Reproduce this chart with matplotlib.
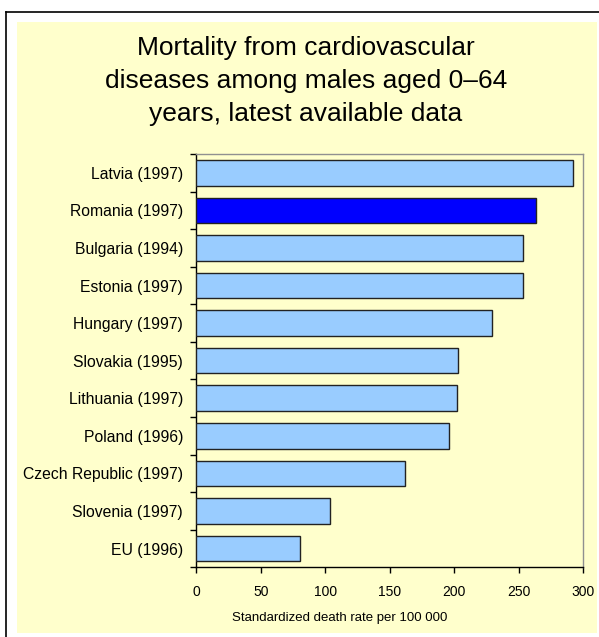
import matplotlib
matplotlib.use("Agg")
import matplotlib.pyplot as plt
from matplotlib.patches import Rectangle
from matplotlib.lines import Line2D

plt.rcParams['font.family'] = ['Liberation Sans', 'DejaVu Sans']

categories = ["Latvia (1997)", "Romania (1997)", "Bulgaria (1994)", "Estonia (1997)",
              "Hungary (1997)", "Slovakia (1995)", "Lithuania (1997)", "Poland (1996)",
              "Czech Republic (1997)", "Slovenia (1997)", "EU (1996)"]
values = [292, 263, 253.5, 253, 229, 202.5, 202, 196, 162, 103.5, 80]
highlight = "Romania (1997)"
xticks = [0, 50, 100, 150, 200, 250, 300]

W, H = 599, 637
fig = plt.figure(figsize=(W / 100, H / 100), dpi=100)
fig.patch.set_facecolor('white')

# yellow panel
fig.patches.append(Rectangle((17 / W, 1 - 633 / H), (597 - 17) / W, (633 - 22) / H,
                             transform=fig.transFigure, facecolor='#FFFFCC',
                             edgecolor='none', zorder=-10))
# black frame lines (left and top)
fig.lines.append(Line2D([6 / W, 6 / W], [0, 1 - 11.5 / H], transform=fig.transFigure,
                        color='black', lw=1.2, zorder=-5))
fig.lines.append(Line2D([6 / W, 1], [1 - 11.5 / H, 1 - 11.5 / H], transform=fig.transFigure,
                        color='black', lw=1.2, zorder=-5))

ax = fig.add_axes([196.3 / W, 1 - 567.3 / H, 387 / W, 413.3 / H])
ax.set_facecolor('#FFFFCC')

colors = ['#0000FF' if c == highlight else '#99CCFF' for c in categories]
ypos = list(range(len(categories)))
ax.barh(ypos, values, height=0.68, color=colors, edgecolor='#222222', linewidth=1.0, zorder=3)

ax.set_ylim(len(categories) - 0.5, -0.5)
ax.set_xlim(0, 300)
ax.set_yticks(ypos)
ax.set_yticklabels(categories, fontsize=11.3)
ax.set_yticks([i - 0.5 for i in range(len(categories) + 1)], minor=True)
ax.tick_params(axis='y', which='major', length=0, pad=9.6)
ax.tick_params(axis='y', which='minor', length=4.5, width=1, direction='out', color='black')
ax.set_xticks(xticks)
ax.set_xticklabels([str(t) for t in xticks], fontsize=10)
ax.tick_params(axis='x', which='major', length=4.5, width=1, direction='out', pad=8)

for s in ['left', 'bottom']:
    ax.spines[s].set_color('black')
    ax.spines[s].set_linewidth(1.0)
for s in ['top', 'right']:
    ax.spines[s].set_color('#909090')
    ax.spines[s].set_linewidth(1.0)

fig.text(340 / W, 1 - 618 / H, "Standardized death rate per 100 000", fontsize=9.5,
         ha='center', va='center')

fig.text(306 / W, 1 - 81 / H,
         "Mortality from cardiovascular\ndiseases among males aged 0\u201364\nyears, latest available data",
         fontsize=19, ha='center', va='center', linespacing=1.45)

fig.savefig('out.png', dpi=100, facecolor='white')
